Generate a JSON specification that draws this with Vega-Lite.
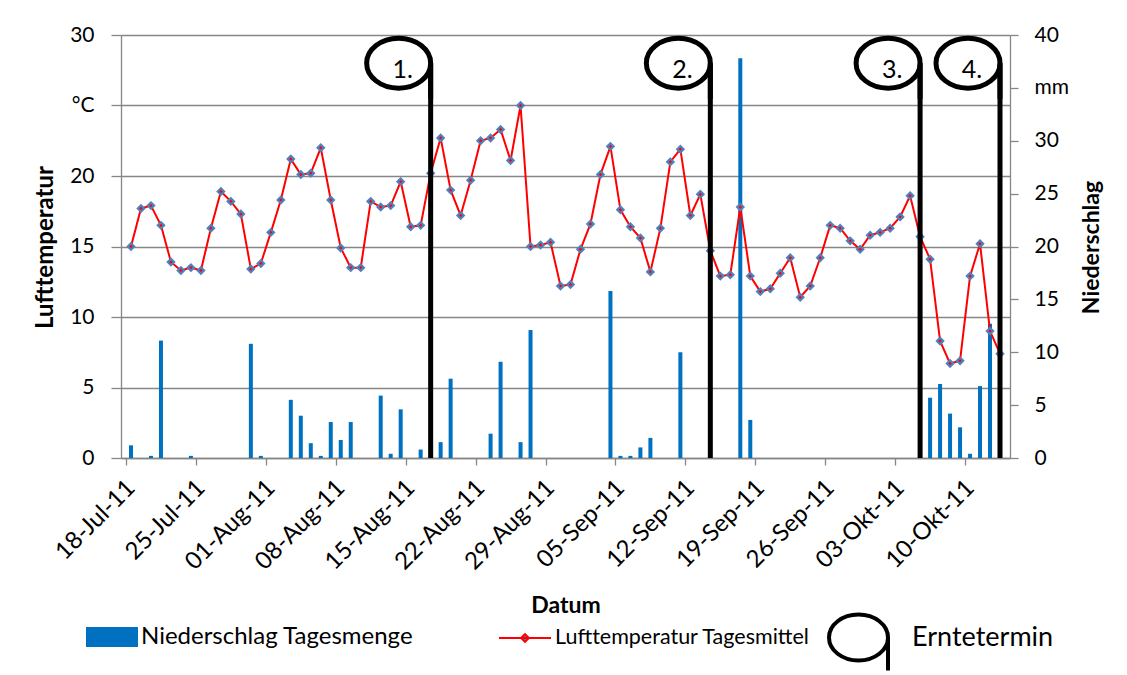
{
  "$schema": "https://vega.github.io/schema/vega-lite/v6.json",
  "width": 889,
  "height": 423,
  "autosize": {"type": "none"},
  "padding": {"left": 121, "top": 35, "right": 117, "bottom": 217},
  "background": "white",
  "config": {
    "view": {"stroke": null},
    "font": "Lato",
    "axis": {"labelFont": "Lato", "titleFont": "Lato", "labelColor": "black", "titleColor": "black"},
    "legend": {"labelFont": "Lato", "labelColor": "black", "padding": 0}
  },
  "datasets": {
    "weather": [
      {"date": "2011-07-18T12:00:00Z", "temp": 15.0, "rain": 1.2},
      {"date": "2011-07-19T12:00:00Z", "temp": 17.7, "rain": 0},
      {"date": "2011-07-20T12:00:00Z", "temp": 17.9, "rain": 0.2},
      {"date": "2011-07-21T12:00:00Z", "temp": 16.5, "rain": 11.1},
      {"date": "2011-07-22T12:00:00Z", "temp": 13.9, "rain": 0},
      {"date": "2011-07-23T12:00:00Z", "temp": 13.3, "rain": 0},
      {"date": "2011-07-24T12:00:00Z", "temp": 13.5, "rain": 0.2},
      {"date": "2011-07-25T12:00:00Z", "temp": 13.3, "rain": 0},
      {"date": "2011-07-26T12:00:00Z", "temp": 16.3, "rain": 0},
      {"date": "2011-07-27T12:00:00Z", "temp": 18.9, "rain": 0},
      {"date": "2011-07-28T12:00:00Z", "temp": 18.2, "rain": 0},
      {"date": "2011-07-29T12:00:00Z", "temp": 17.3, "rain": 0},
      {"date": "2011-07-30T12:00:00Z", "temp": 13.4, "rain": 10.8},
      {"date": "2011-07-31T12:00:00Z", "temp": 13.8, "rain": 0.2},
      {"date": "2011-08-01T12:00:00Z", "temp": 16.0, "rain": 0},
      {"date": "2011-08-02T12:00:00Z", "temp": 18.3, "rain": 0},
      {"date": "2011-08-03T12:00:00Z", "temp": 21.2, "rain": 5.5},
      {"date": "2011-08-04T12:00:00Z", "temp": 20.1, "rain": 4.0},
      {"date": "2011-08-05T12:00:00Z", "temp": 20.2, "rain": 1.4},
      {"date": "2011-08-06T12:00:00Z", "temp": 22.0, "rain": 0.2},
      {"date": "2011-08-07T12:00:00Z", "temp": 18.3, "rain": 3.4},
      {"date": "2011-08-08T12:00:00Z", "temp": 14.9, "rain": 1.7},
      {"date": "2011-08-09T12:00:00Z", "temp": 13.5, "rain": 3.4},
      {"date": "2011-08-10T12:00:00Z", "temp": 13.5, "rain": 0},
      {"date": "2011-08-11T12:00:00Z", "temp": 18.2, "rain": 0},
      {"date": "2011-08-12T12:00:00Z", "temp": 17.8, "rain": 5.9},
      {"date": "2011-08-13T12:00:00Z", "temp": 17.9, "rain": 0.4},
      {"date": "2011-08-14T12:00:00Z", "temp": 19.6, "rain": 4.6},
      {"date": "2011-08-15T12:00:00Z", "temp": 16.4, "rain": 0},
      {"date": "2011-08-16T12:00:00Z", "temp": 16.5, "rain": 0.8},
      {"date": "2011-08-17T12:00:00Z", "temp": 20.2, "rain": 0},
      {"date": "2011-08-18T12:00:00Z", "temp": 22.7, "rain": 1.5},
      {"date": "2011-08-19T12:00:00Z", "temp": 19.0, "rain": 7.5},
      {"date": "2011-08-20T12:00:00Z", "temp": 17.2, "rain": 0},
      {"date": "2011-08-21T12:00:00Z", "temp": 19.7, "rain": 0},
      {"date": "2011-08-22T12:00:00Z", "temp": 22.5, "rain": 0},
      {"date": "2011-08-23T12:00:00Z", "temp": 22.7, "rain": 2.3},
      {"date": "2011-08-24T12:00:00Z", "temp": 23.3, "rain": 9.1},
      {"date": "2011-08-25T12:00:00Z", "temp": 21.1, "rain": 0},
      {"date": "2011-08-26T12:00:00Z", "temp": 25.0, "rain": 1.5},
      {"date": "2011-08-27T12:00:00Z", "temp": 15.0, "rain": 12.1},
      {"date": "2011-08-28T12:00:00Z", "temp": 15.1, "rain": 0},
      {"date": "2011-08-29T12:00:00Z", "temp": 15.3, "rain": 0},
      {"date": "2011-08-30T12:00:00Z", "temp": 12.2, "rain": 0},
      {"date": "2011-08-31T12:00:00Z", "temp": 12.3, "rain": 0},
      {"date": "2011-09-01T12:00:00Z", "temp": 14.8, "rain": 0},
      {"date": "2011-09-02T12:00:00Z", "temp": 16.6, "rain": 0},
      {"date": "2011-09-03T12:00:00Z", "temp": 20.1, "rain": 0},
      {"date": "2011-09-04T12:00:00Z", "temp": 22.1, "rain": 15.8},
      {"date": "2011-09-05T12:00:00Z", "temp": 17.6, "rain": 0.2},
      {"date": "2011-09-06T12:00:00Z", "temp": 16.4, "rain": 0.2},
      {"date": "2011-09-07T12:00:00Z", "temp": 15.6, "rain": 1.0},
      {"date": "2011-09-08T12:00:00Z", "temp": 13.2, "rain": 1.9},
      {"date": "2011-09-09T12:00:00Z", "temp": 16.3, "rain": 0},
      {"date": "2011-09-10T12:00:00Z", "temp": 21.0, "rain": 0},
      {"date": "2011-09-11T12:00:00Z", "temp": 21.9, "rain": 10.0},
      {"date": "2011-09-12T12:00:00Z", "temp": 17.2, "rain": 0},
      {"date": "2011-09-13T12:00:00Z", "temp": 18.7, "rain": 0},
      {"date": "2011-09-14T12:00:00Z", "temp": 14.7, "rain": 0},
      {"date": "2011-09-15T12:00:00Z", "temp": 12.9, "rain": 0},
      {"date": "2011-09-16T12:00:00Z", "temp": 13.0, "rain": 0},
      {"date": "2011-09-17T12:00:00Z", "temp": 17.8, "rain": 37.8},
      {"date": "2011-09-18T12:00:00Z", "temp": 12.9, "rain": 3.6},
      {"date": "2011-09-19T12:00:00Z", "temp": 11.8, "rain": 0},
      {"date": "2011-09-20T12:00:00Z", "temp": 12.0, "rain": 0},
      {"date": "2011-09-21T12:00:00Z", "temp": 13.1, "rain": 0},
      {"date": "2011-09-22T12:00:00Z", "temp": 14.2, "rain": 0},
      {"date": "2011-09-23T12:00:00Z", "temp": 11.4, "rain": 0},
      {"date": "2011-09-24T12:00:00Z", "temp": 12.2, "rain": 0},
      {"date": "2011-09-25T12:00:00Z", "temp": 14.2, "rain": 0},
      {"date": "2011-09-26T12:00:00Z", "temp": 16.5, "rain": 0},
      {"date": "2011-09-27T12:00:00Z", "temp": 16.3, "rain": 0},
      {"date": "2011-09-28T12:00:00Z", "temp": 15.4, "rain": 0},
      {"date": "2011-09-29T12:00:00Z", "temp": 14.8, "rain": 0},
      {"date": "2011-09-30T12:00:00Z", "temp": 15.8, "rain": 0},
      {"date": "2011-10-01T12:00:00Z", "temp": 16.0, "rain": 0},
      {"date": "2011-10-02T12:00:00Z", "temp": 16.3, "rain": 0},
      {"date": "2011-10-03T12:00:00Z", "temp": 17.1, "rain": 0},
      {"date": "2011-10-04T12:00:00Z", "temp": 18.6, "rain": 0},
      {"date": "2011-10-05T12:00:00Z", "temp": 15.7, "rain": 0},
      {"date": "2011-10-06T12:00:00Z", "temp": 14.1, "rain": 5.7},
      {"date": "2011-10-07T12:00:00Z", "temp": 8.3, "rain": 7.0},
      {"date": "2011-10-08T12:00:00Z", "temp": 6.7, "rain": 4.2},
      {"date": "2011-10-09T12:00:00Z", "temp": 6.9, "rain": 2.9},
      {"date": "2011-10-10T12:00:00Z", "temp": 12.9, "rain": 0.4},
      {"date": "2011-10-11T12:00:00Z", "temp": 15.2, "rain": 6.8},
      {"date": "2011-10-12T12:00:00Z", "temp": 9.0, "rain": 12.7},
      {"date": "2011-10-13T12:00:00Z", "temp": 7.4, "rain": 0}
    ],
    "harvest": [
      {"date": "2011-08-17T12:00:00Z", "label": "1."},
      {"date": "2011-09-14T12:00:00Z", "label": "2."},
      {"date": "2011-10-05T12:00:00Z", "label": "3."},
      {"date": "2011-10-13T12:00:00Z", "label": "4."}
    ]
  },
  "encoding": {
    "x": {
      "field": "date",
      "type": "temporal",
      "scale": {
        "type": "utc",
        "domain": [
          {"year": 2011, "month": 7, "date": 18, "utc": true},
          {"year": 2011, "month": 10, "date": 14, "utc": true}
        ]
      },
      "axis": {
        "values": [
          {"year": 2011, "month": 7, "date": 18, "utc": true},
          {"year": 2011, "month": 7, "date": 25, "utc": true},
          {"year": 2011, "month": 8, "date": 1, "utc": true},
          {"year": 2011, "month": 8, "date": 8, "utc": true},
          {"year": 2011, "month": 8, "date": 15, "utc": true},
          {"year": 2011, "month": 8, "date": 22, "utc": true},
          {"year": 2011, "month": 8, "date": 29, "utc": true},
          {"year": 2011, "month": 9, "date": 5, "utc": true},
          {"year": 2011, "month": 9, "date": 12, "utc": true},
          {"year": 2011, "month": 9, "date": 19, "utc": true},
          {"year": 2011, "month": 9, "date": 26, "utc": true},
          {"year": 2011, "month": 10, "date": 3, "utc": true},
          {"year": 2011, "month": 10, "date": 10, "utc": true}
        ],
        "labelExpr": "replace(utcFormat(datum.value, '%d-%b-%y'), 'Oct', 'Okt')",
        "labelAngle": -45,
        "labelAlign": "right",
        "labelBaseline": "middle",
        "labelFontSize": 24,
        "labelPadding": 19,
        "labelOffset": 5,
        "labelOverlap": false,
        "labelFlush": false,
        "labelBound": false,
        "tickSize": 7,
        "tickColor": "#868686",
        "tickWidth": 1.3,
        "domainColor": "#868686",
        "domainWidth": 1.3,
        "grid": false,
        "title": "Datum",
        "titleFontSize": 23,
        "titleFontWeight": "bold",
        "titleY": 147,
        "titleBaseline": "middle"
      }
    }
  },
  "layer": [
    {
      "data": {"name": "weather"},
      "transform": [{"filter": "datum.rain > 0"}],
      "mark": {"type": "bar", "width": 4},
      "encoding": {
        "y": {
          "field": "rain",
          "type": "quantitative",
          "scale": {"domain": [0, 40], "nice": false},
          "axis": {
            "orient": "right",
            "values": [0, 5, 10, 15, 20, 25, 30, 35, 40],
            "labelExpr": "datum.value == 35 ? 'mm' : datum.label",
            "labelFontSize": 21,
            "labelPadding": 16,
            "tickSize": 8,
            "tickColor": "#868686",
            "tickWidth": 1.3,
            "domainColor": "#868686",
            "domainWidth": 1.3,
            "grid": false,
            "title": "Niederschlag",
            "titleFontSize": 23,
            "titleFontWeight": "bold",
            "titleAngle": -90,
            "titleX": 81,
            "titleY": 212,
            "titleAlign": "center",
            "titleBaseline": "middle"
          }
        },
        "color": {
          "datum": "Niederschlag Tagesmenge",
          "scale": {"range": ["#0070c0"]},
          "legend": {
            "title": null,
            "orient": "none",
            "legendX": -35,
            "legendY": 576,
            "symbolType": "M -1 -0.385 H 1 V 0.385 H -1 Z",
            "symbolSize": 2704,
            "symbolStrokeWidth": 0,
            "labelFontSize": 24,
            "labelOffset": 3,
            "labelLimit": 0
          }
        }
      }
    },
    {
      "layer": [
        {
          "data": {"name": "weather"},
          "mark": {"type": "line", "strokeWidth": 2},
          "encoding": {
            "y": {
              "field": "temp",
              "type": "quantitative",
              "scale": {"domain": [0, 30], "nice": false},
              "axis": {
                "orient": "left",
                "values": [0, 5, 10, 15, 20, 25, 30],
                "labelExpr": "datum.value == 25 ? '°C' : datum.label",
                "labelFontSize": 21,
                "labelPadding": 17,
                "tickSize": 10,
                "tickColor": "#868686",
                "tickWidth": 1.3,
                "domainColor": "#868686",
                "domainWidth": 1.3,
                "grid": true,
                "gridColor": "#868686",
                "gridWidth": 1.3,
                "title": "Lufttemperatur",
                "titleFontSize": 24,
                "titleFontWeight": "bold",
                "titleAngle": -90,
                "titleX": -76,
                "titleY": 212,
                "titleAlign": "center",
                "titleBaseline": "middle"
              }
            },
            "stroke": {
              "datum": "Lufttemperatur Tagesmittel",
              "scale": {"range": ["#ff0000"]},
              "legend": {
                "title": null,
                "orient": "none",
                "legendX": 377,
                "legendY": 576,
                "symbolType": "M -1 0 H 1 M -0.15 0 L 0 -0.15 L 0.15 0 L 0 0.15 Z",
                "symbolSize": 2704,
                "symbolStrokeWidth": 2,
                "symbolFillColor": "#4f81bd",
                "labelFontSize": 21.5,
                "labelOffset": 3,
                "labelLimit": 0
              }
            }
          }
        },
        {
          "data": {"name": "weather"},
          "mark": {"type": "point", "shape": "diamond", "filled": true, "fill": "#ff0000", "stroke": "#4f81bd", "strokeWidth": 2.2, "size": 40, "opacity": 1},
          "encoding": {
            "y": {
              "field": "temp",
              "type": "quantitative",
              "scale": {"domain": [0, 30], "nice": false},
              "axis": {
                "orient": "left",
                "values": [0, 5, 10, 15, 20, 25, 30],
                "labelExpr": "datum.value == 25 ? '°C' : datum.label",
                "labelFontSize": 21,
                "labelPadding": 17,
                "tickSize": 10,
                "tickColor": "#868686",
                "tickWidth": 1.3,
                "domainColor": "#868686",
                "domainWidth": 1.3,
                "grid": true,
                "gridColor": "#868686",
                "gridWidth": 1.3,
                "title": "Lufttemperatur",
                "titleFontSize": 24,
                "titleFontWeight": "bold",
                "titleAngle": -90,
                "titleX": -76,
                "titleY": 212,
                "titleAlign": "center",
                "titleBaseline": "middle"
              }
            }
          }
        },
        {
          "data": {"name": "harvest"},
          "mark": {"type": "rule", "strokeWidth": 5, "color": "black"},
          "encoding": {
            "y": {"datum": 28},
            "y2": {"datum": 0}
          }
        },
        {
          "data": {"name": "harvest"},
          "mark": {"type": "point", "filled": false, "stroke": "black", "strokeWidth": 5, "size": 4096, "xOffset": -32, "opacity": 1},
          "encoding": {
            "y": {"datum": 28},
            "shape": {
              "datum": "Erntetermin",
              "scale": {"range": ["M -1 0 A 1 0.78 0 1 1 1 0 A 1 0.78 0 1 1 -1 0 M 1 0 L 1 1.12"]},
              "legend": {
                "title": null,
                "orient": "none",
                "legendX": 706,
                "legendY": 571,
                "symbolSize": 3481,
                "symbolStrokeWidth": 4,
                "symbolStrokeColor": "black",
                "labelFontSize": 27,
                "labelOffset": 22,
                "labelLimit": 0
              }
            }
          }
        },
        {
          "data": {"name": "harvest"},
          "mark": {"type": "text", "fontSize": 25, "font": "Lato", "color": "black", "align": "center", "baseline": "alphabetic", "xOffset": -28, "dy": 15},
          "encoding": {
            "y": {"datum": 28},
            "text": {"field": "label"}
          }
        }
      ]
    }
  ],
  "resolve": {"scale": {"y": "independent"}}
}
